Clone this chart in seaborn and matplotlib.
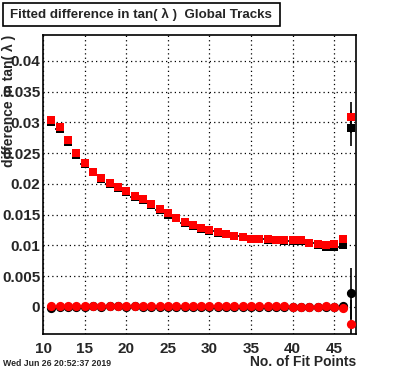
import matplotlib

matplotlib.use("Agg")
import matplotlib.pyplot as plt
import numpy as np
import pandas as pd
import seaborn as sns
from matplotlib.patches import Rectangle
from matplotlib.ticker import FuncFormatter, MultipleLocator

# fit points on x axis
nfit = list(range(11, 48))

# mean difference in tan(lambda), squares
red_sq = [0.0304, 0.0292, 0.0272, 0.0251, 0.0234, 0.0220, 0.0210, 0.0202, 0.0195, 0.0188,
          0.0181, 0.0175, 0.0168, 0.0159, 0.0152, 0.0145, 0.0138, 0.0133, 0.0129, 0.0125,
          0.0122, 0.0119, 0.0116, 0.0114, 0.0111, 0.0110, 0.0110, 0.0109, 0.0108, 0.0108,
          0.0108, 0.0104, 0.0103, 0.0100, 0.0103, 0.0110, 0.0308]
black_sq = [0.0300, 0.0289, 0.0268, 0.0247, 0.0232, 0.0219, 0.0208, 0.0200, 0.0193, 0.0186,
            0.0179, 0.0173, 0.0166, 0.0157, 0.0150, 0.0144, 0.0137, 0.0131, 0.0127, 0.0124,
            0.0120, 0.0118, 0.0115, 0.0113, 0.0111, 0.0110, 0.0109, 0.0108, 0.0107, 0.0107,
            0.0107, 0.0104, 0.0101, 0.0098, 0.0097, 0.0101, 0.0291]
red_sq_err = [0.0002] * 36 + [0.0025]
black_sq_err = [0.0002] * 36 + [0.0029]

# offsets, circles
red_ci = [0.0001, 0.0001, 0.0001, 0.0001, 0.0001, 0.0001, 0.0002, 0.0002, 0.0001, 0.0001,
          0.0001, 0.0001, 0.0001, 0.0001, 0.0001, 0.0001, 0.0001, 0.0001, 0.0001, 0.0001,
          0.0001, 0.0001, 0.0001, 0.0001, 0.0001, 0.0001, 0.0001, 0.0001, 0.0001, 0.0000,
          0.0000, 0.0000, 0.0000, 0.0001, 0.0000, -0.0001, -0.0028]
black_ci = [-0.0001, 0.0000, 0.0000, 0.0000, 0.0000, 0.0001, 0.0000, 0.0001, 0.0001, 0.0000,
            0.0001, 0.0000, 0.0000, 0.0000, 0.0000, 0.0000, 0.0000, 0.0000, 0.0000, 0.0000,
            0.0000, 0.0000, 0.0000, 0.0000, 0.0000, 0.0000, 0.0000, 0.0000, 0.0000, 0.0000,
            0.0000, 0.0000, 0.0000, 0.0000, 0.0000, 0.0001, 0.0022]
red_ci_err = [0.0002] * 36 + [0.0040]
black_ci_err = [0.0002] * 36 + [0.0041]

sns.set_style("white")
plt.rcParams["font.family"] = ["Liberation Sans", "DejaVu Sans"]
plt.rcParams["font.weight"] = "bold"

fig = plt.figure(figsize=(3.96, 3.72), dpi=100)
W, H = 396, 372
ax = fig.add_axes([43 / W, (H - 334) / H, (356 - 43) / W, (334 - 35) / H])

df = pd.DataFrame({"nfit": nfit, "red_sq": red_sq, "black_sq": black_sq,
                   "red_ci": red_ci, "black_ci": black_ci})

# black series with error bars first, red on top
for ycol, err in [("black_sq", black_sq_err), ("black_ci", black_ci_err)]:
    ax.errorbar(df["nfit"], df[ycol], xerr=0.5, yerr=err, fmt="none",
                ecolor="black", elinewidth=1.2, capsize=0, zorder=2)
for ycol, err in [("red_sq", red_sq_err), ("red_ci", red_ci_err)]:
    ax.errorbar(df["nfit"], df[ycol], yerr=err, fmt="none",
                ecolor="black", elinewidth=1.2, capsize=0, zorder=2)

sns.scatterplot(data=df, x="nfit", y="black_sq", marker="s", color="black", s=36,
                linewidth=0, ax=ax, zorder=3)
sns.scatterplot(data=df, x="nfit", y="black_ci", marker="o", color="black", s=44,
                linewidth=0, ax=ax, zorder=3)
sns.scatterplot(data=df, x="nfit", y="red_sq", marker="s", color="#ff0000", s=38,
                linewidth=0, ax=ax, zorder=4)
sns.scatterplot(data=df, x="nfit", y="red_ci", marker="o", color="#ff0000", s=44,
                linewidth=0, ax=ax, zorder=4)

ax.set_xlim(10, 47.6)
ax.set_ylim(-0.0044, 0.0442)
ax.xaxis.set_major_locator(MultipleLocator(5))
ax.xaxis.set_minor_locator(MultipleLocator(1))
ax.yaxis.set_major_locator(MultipleLocator(0.005))
ax.yaxis.set_minor_locator(MultipleLocator(0.001))
ax.yaxis.set_major_formatter(FuncFormatter(lambda v, p: "%g" % round(v, 4)))
ax.tick_params(which="both", direction="in", top=False, right=False,
               labelsize=11, width=1, color="black")
ax.tick_params(which="major", length=8)
ax.tick_params(which="minor", length=4)
ax.tick_params(axis="x", pad=6)
ax.tick_params(axis="y", pad=2)
ax.grid(True, which="major", color="black", linestyle=(0, (1, 2.5)), linewidth=0.9)
for sp in ax.spines.values():
    sp.set_color("black")
    sp.set_linewidth(1.2)

ax.set_xlabel("")
# ROOT puts this label right over the tick labels, as in the original
ax.set_ylabel("difference in tan( \u03bb )", fontsize=10, fontweight="bold", loc="top")
ax.yaxis.set_label_coords(-0.086, 1.0)
ax.text(1.0, -0.093, "No. of Fit Points", transform=ax.transAxes, ha="right",
        va="center", fontsize=10, fontweight="bold")

# title box
fig.patches.append(Rectangle((3 / W, (H - 26) / H), (280 - 3) / W, 23 / H,
                             transform=fig.transFigure, facecolor="white",
                             edgecolor="black", linewidth=1.2))
fig.text(10 / W, (H - 14.5) / H, "Fitted difference in tan( \u03bb )  Global Tracks",
         ha="left", va="center", fontsize=9.6, fontweight="bold")
fig.text(3 / W, (H - 364) / H, "Wed Jun 26 20:52:37 2019", ha="left", va="center",
         fontsize=6.3, fontweight="bold")

fig.savefig("out.png", dpi=100)
